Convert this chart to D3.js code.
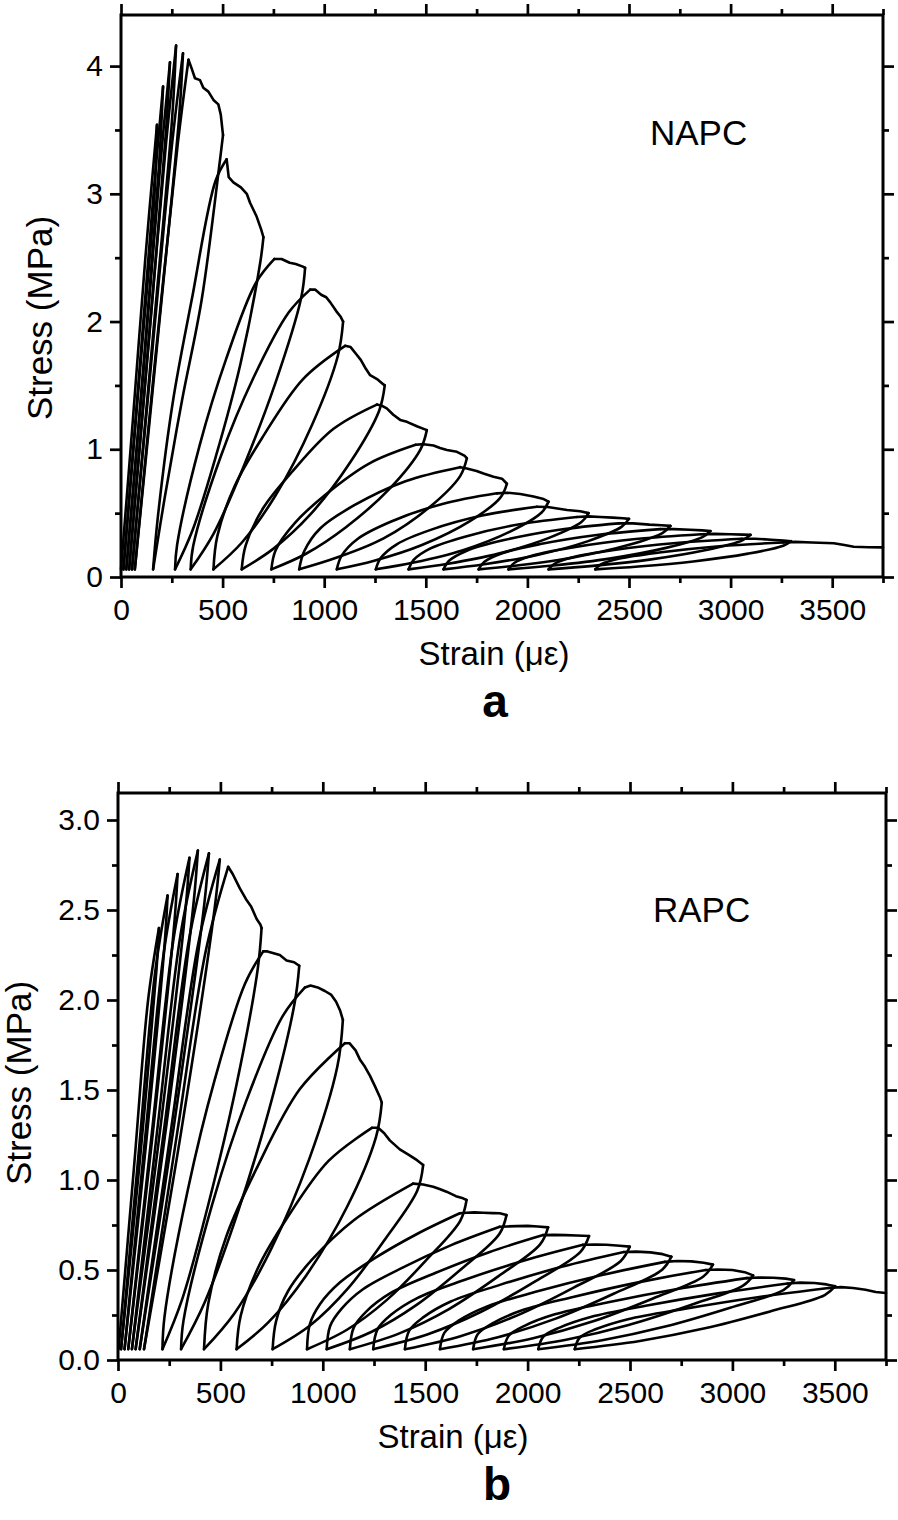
<!DOCTYPE html>
<html><head><meta charset="utf-8">
<script src="https://cdn.jsdelivr.net/npm/d3@7"></script>
<style>body{margin:0;background:#fff}svg{display:block}</style>
</head><body><svg id="c"></svg>
<script>
// ---------- tick values ----------
const strainMajor = [0,500,1000,1500,2000,2500,3000,3500];
const strainMinor = [250,750,1250,1750,2250,2750,3250,3750];
const stressMajorA = [0,1,2,3,4];
const stressMinorA = [0.5,1.5,2.5,3.5];
const stressMajorB = [0,0.5,1.0,1.5,2.0,2.5,3.0];
const stressMinorB = [0.25,0.75,1.25,1.75,2.25,2.75];

// ---------- panel a (NAPC): [strain, stress] ----------
const aLoading = [[0,0.06],[57,1.2],[120,2.5],[177,3.54]];
const aUnload = [
 [[177,3.54],[165,3.0],[98,1.7],[12,0.06]],
 [[207,3.84],[190,3.3],[118,1.8],[26,0.06]],
 [[241,4.03],[222,3.5],[140,1.9],[40,0.06]],
 [[271,4.16],[252,3.6],[158,1.9],[54,0.06]],
 [[305,4.10],[286,3.6],[183,1.9],[68,0.06]],
 [[502,3.46],[486,3.25],[397,2.17],[300,1.38],[215,0.62],[158,0.06]],
 [[701,2.66],[685,2.46],[588,1.67],[466,0.94],[353,0.37],[266,0.06]],
 [[906,2.42],[886,2.18],[760,1.52],[602,0.86],[456,0.34],[343,0.06]],
 [[1093,2.0],[1067,1.73],[940,1.19],[761,0.64],[595,0.27],[455,0.06]],
 [[1298,1.5],[1270,1.30],[1129,0.90],[932,0.49],[749,0.22],[594,0.06]],
 [[1505,1.15],[1474,1.0],[1321,0.69],[1107,0.39],[908,0.18],[740,0.06]],
 [[1702,0.93],[1669,0.79],[1521,0.55],[1290,0.30],[1059,0.15],[877,0.06]],
 [[1899,0.73],[1866,0.62],[1715,0.435],[1481,0.25],[1246,0.127],[1062,0.06]],
 [[2104,0.59],[2070,0.505],[1917,0.357],[1679,0.208],[1441,0.113],[1254,0.06]],
 [[2301,0.50],[2266,0.43],[2106,0.306],[1858,0.183],[1610,0.104],[1415,0.06]],
 [[2500,0.455],[2463,0.392],[2299,0.281],[2044,0.171],[1788,0.10],[1587,0.06]],
 [[2704,0.40],[2666,0.346],[2496,0.25],[2232,0.155],[1968,0.094],[1760,0.06]],
 [[2901,0.36],[2861,0.312],[2682,0.228],[2404,0.144],[2126,0.09],[1907,0.06]],
 [[3098,0.33],[3058,0.287],[2879,0.211],[2601,0.136],[2323,0.087],[2104,0.06]],
 [[3298,0.28],[3259,0.245],[3086,0.183],[2816,0.122],[2546,0.082],[2334,0.06]]
];
const aReload = [
 [[12,0.06],[90,1.6],[160,3.0],[207,3.84]],
 [[26,0.06],[110,1.6],[192,3.2],[241,4.03]],
 [[40,0.06],[128,1.7],[222,3.4],[271,4.16]],
 [[54,0.06],[150,1.7],[252,3.4],[305,4.10]],
 [[68,0.06],[168,1.7],[280,3.4],[332,4.05]],
 [[158,0.06],[180,0.45],[256,1.38],[348,2.17],[465,3.10],[520,3.27]],
 [[266,0.06],[276,0.25],[387,1.03],[518,1.71],[663,2.30],[755,2.49]],
 [[343,0.06],[355,0.24],[490,0.94],[649,1.55],[825,2.07],[931,2.25]],
 [[455,0.06],[474,0.32],[559,0.71],[695,1.09],[896,1.55],[1103,1.81]],
 [[594,0.06],[614,0.25],[700,0.54],[840,0.82],[1046,1.16],[1259,1.35]],
 [[740,0.06],[761,0.21],[854,0.42],[1003,0.64],[1223,0.89],[1450,1.035]],
 [[877,0.06],[901,0.20],[980,0.38],[1146,0.56],[1400,0.75],[1669,0.86]],
 [[1062,0.06],[1086,0.167],[1164,0.298],[1330,0.435],[1582,0.572],[1850,0.655]],
 [[1254,0.06],[1278,0.148],[1357,0.256],[1524,0.369],[1777,0.481],[2047,0.55]],
 [[1415,0.06],[1440,0.134],[1523,0.224],[1697,0.318],[1962,0.413],[2244,0.47]],
 [[1587,0.06],[1613,0.125],[1699,0.204],[1880,0.287],[2157,0.37],[2450,0.42]],
 [[1760,0.06],[1787,0.117],[1876,0.186],[2064,0.258],[2351,0.331],[2655,0.375]],
 [[1907,0.06],[1935,0.11],[2030,0.17],[2229,0.233],[2533,0.297],[2855,0.335]],
 [[2104,0.06],[2133,0.103],[2228,0.156],[2427,0.211],[2732,0.266],[3055,0.30]],
 [[2334,0.06],[2362,0.098],[2454,0.144],[2649,0.192],[2945,0.241],[3260,0.27]]
];
const aEnvelope = [
 [[332,4.05],[348,3.98],[364,3.905],[389,3.89],[405,3.83],[430,3.80],[455,3.735],[479,3.70],[491,3.62],[502,3.46]],
 [[520,3.27],[530,3.13],[553,3.09],[590,3.05],[619,3.0],[635,2.93],[668,2.82],[690,2.72],[701,2.66]],
 [[755,2.49],[790,2.49],[830,2.46],[860,2.45],[895,2.43],[906,2.42]],
 [[931,2.25],[955,2.25],[985,2.21],[1010,2.19],[1030,2.15],[1060,2.08],[1080,2.04],[1093,2.0]],
 [[1103,1.81],[1130,1.80],[1160,1.74],[1180,1.70],[1205,1.63],[1226,1.58],[1260,1.55],[1290,1.51],[1298,1.5]],
 [[1259,1.35],[1285,1.34],[1308,1.32],[1340,1.27],[1374,1.23],[1407,1.215],[1456,1.18],[1505,1.15]],
 [[1450,1.035],[1490,1.04],[1538,1.03],[1570,1.01],[1604,0.995],[1653,0.98],[1690,0.95],[1702,0.93]],
 [[1669,0.86],[1702,0.85],[1750,0.83],[1784,0.81],[1833,0.785],[1875,0.77],[1899,0.73]],
 [[1850,0.655],[1900,0.66],[1965,0.65],[2030,0.63],[2080,0.61],[2104,0.59]],
 [[2047,0.55],[2100,0.548],[2195,0.525],[2260,0.515],[2301,0.50]],
 [[2244,0.47],[2300,0.475],[2359,0.47],[2420,0.465],[2470,0.46],[2500,0.455]],
 [[2450,0.42],[2520,0.42],[2600,0.41],[2660,0.405],[2704,0.40]],
 [[2655,0.375],[2720,0.375],[2800,0.37],[2860,0.365],[2901,0.36]],
 [[2855,0.335],[2920,0.338],[3000,0.335],[3060,0.332],[3098,0.33]],
 [[3055,0.30],[3120,0.30],[3200,0.292],[3260,0.285],[3298,0.28]],
 [[3260,0.27],[3320,0.275],[3400,0.27],[3508,0.264],[3560,0.25],[3606,0.237],[3680,0.233],[3750,0.232]]
];

// ---------- panel b (RAPC): [strain, stress] ----------
const bLoading = [[3,0.06],[81,1.11],[147,2.0],[200,2.40]];
const bUnload = [
 [[200,2.40],[188,2.17],[107,1.11],[15,0.06]],
 [[242,2.58],[229,2.33],[136,1.19],[32,0.06]],
 [[291,2.70],[276,2.44],[169,1.25],[50,0.06]],
 [[349,2.79],[331,2.52],[207,1.29],[68,0.06]],
 [[390,2.83],[370,2.55],[237,1.31],[86,0.06]],
 [[444,2.815],[422,2.54],[273,1.30],[106,0.06]],
 [[497,2.78],[472,2.51],[310,1.28],[127,0.06]],
 [[701,2.40],[682,2.17],[575,1.51],[440,0.86],[314,0.34],[217,0.06]],
 [[885,2.19],[862,1.98],[735,1.38],[573,0.78],[423,0.32],[308,0.06]],
 [[1098,1.89],[1071,1.63],[935,1.12],[745,0.61],[569,0.26],[420,0.06]],
 [[1288,1.43],[1260,1.24],[1118,0.85],[919,0.47],[735,0.21],[579,0.06]],
 [[1490,1.083],[1461,0.94],[1306,0.674],[1123,0.398],[939,0.193],[755,0.06]],
 [[1702,0.889],[1671,0.773],[1507,0.557],[1313,0.334],[1118,0.168],[923,0.06]],
 [[1897,0.805],[1862,0.70],[1678,0.507],[1458,0.306],[1239,0.157],[1019,0.06]],
 [[2100,0.737],[2061,0.642],[1858,0.466],[1616,0.283],[1374,0.148],[1132,0.06]],
 [[2300,0.689],[2258,0.601],[2037,0.437],[1773,0.268],[1510,0.142],[1246,0.06]],
 [[2499,0.63],[2455,0.55],[2225,0.402],[1950,0.248],[1676,0.134],[1401,0.06]],
 [[2702,0.574],[2657,0.502],[2420,0.368],[2137,0.23],[1855,0.127],[1572,0.06]],
 [[2905,0.53],[2858,0.464],[2612,0.342],[2320,0.215],[2027,0.121],[1734,0.06]],
 [[3101,0.47],[3052,0.413],[2797,0.306],[2493,0.195],[2188,0.113],[1884,0.06]],
 [[3301,0.444],[3251,0.39],[2989,0.29],[2677,0.187],[2364,0.11],[2052,0.06]],
 [[3502,0.41],[3451,0.361],[3184,0.27],[2866,0.176],[2548,0.106],[2230,0.06]]
];
const bReload = [
 [[15,0.06],[104,1.19],[181,2.15],[242,2.58]],
 [[32,0.06],[134,1.25],[222,2.25],[291,2.70]],
 [[50,0.06],[168,1.29],[270,2.33],[349,2.79]],
 [[68,0.06],[195,1.31],[305,2.36],[390,2.83]],
 [[86,0.06],[227,1.30],[349,2.35],[444,2.815]],
 [[106,0.06],[259,1.28],[393,2.32],[497,2.78]],
 [[127,0.06],[290,1.27],[430,2.28],[538,2.74]],
 [[217,0.06],[227,0.24],[340,0.94],[473,1.56],[620,2.09],[709,2.27]],
 [[308,0.06],[320,0.22],[459,0.86],[623,1.43],[804,1.91],[913,2.07]],
 [[420,0.06],[441,0.315],[530,0.69],[675,1.06],[888,1.505],[1108,1.76]],
 [[579,0.06],[599,0.245],[685,0.515],[824,0.786],[1028,1.106],[1240,1.29]],
 [[755,0.06],[772,0.216],[830,0.382],[947,0.557],[1153,0.778],[1441,0.98]],
 [[923,0.06],[937,0.20],[986,0.31],[1083,0.43],[1246,0.56],[1460,0.70],[1669,0.815]],
 [[1019,0.06],[1036,0.189],[1091,0.284],[1196,0.393],[1382,0.509],[1627,0.638],[1864,0.74]],
 [[1132,0.06],[1151,0.18],[1212,0.269],[1330,0.371],[1538,0.478],[1812,0.599],[2076,0.694]],
 [[1246,0.06],[1267,0.17],[1333,0.251],[1461,0.344],[1687,0.443],[1984,0.553],[2271,0.64]],
 [[1401,0.06],[1422,0.163],[1492,0.238],[1625,0.325],[1861,0.416],[2171,0.519],[2470,0.60]],
 [[1572,0.06],[1594,0.152],[1665,0.22],[1803,0.298],[2044,0.38],[2363,0.472],[2670,0.545]],
 [[1734,0.06],[1757,0.144],[1831,0.205],[1973,0.276],[2222,0.35],[2552,0.434],[2870,0.50]],
 [[1884,0.06],[1908,0.135],[1985,0.19],[2133,0.254],[2394,0.321],[2738,0.396],[3070,0.455]],
 [[2052,0.06],[2076,0.129],[2156,0.18],[2308,0.239],[2576,0.301],[2929,0.37],[3270,0.425]],
 [[2230,0.06],[2255,0.125],[2335,0.172],[2490,0.227],[2763,0.284],[3123,0.349],[3470,0.40]]
];
const bEnvelope = [
 [[538,2.74],[560,2.70],[595,2.62],[625,2.56],[650,2.52],[677,2.45],[695,2.42],[701,2.40]],
 [[709,2.27],[730,2.27],[760,2.26],[790,2.25],[823,2.22],[860,2.21],[885,2.19]],
 [[913,2.07],[940,2.08],[975,2.07],[1010,2.05],[1040,2.03],[1065,1.99],[1085,1.94],[1098,1.89]],
 [[1108,1.76],[1130,1.76],[1160,1.72],[1181,1.67],[1205,1.63],[1230,1.58],[1255,1.52],[1279,1.46],[1288,1.43]],
 [[1240,1.29],[1270,1.29],[1300,1.26],[1327,1.22],[1376,1.17],[1420,1.14],[1460,1.11],[1490,1.083]],
 [[1441,0.98],[1490,0.975],[1539,0.963],[1570,0.95],[1604,0.935],[1650,0.91],[1685,0.898],[1702,0.889]],
 [[1669,0.815],[1702,0.818],[1740,0.82],[1783,0.818],[1830,0.816],[1864,0.815],[1897,0.805]],
 [[1864,0.74],[1900,0.742],[1946,0.744],[2000,0.745],[2050,0.742],[2100,0.737]],
 [[2076,0.694],[2130,0.695],[2185,0.694],[2240,0.692],[2300,0.689]],
 [[2271,0.64],[2330,0.642],[2385,0.64],[2450,0.635],[2499,0.63]],
 [[2470,0.60],[2530,0.602],[2600,0.598],[2660,0.588],[2702,0.574]],
 [[2670,0.545],[2730,0.55],[2800,0.548],[2860,0.54],[2905,0.53]],
 [[2870,0.50],[2930,0.503],[3000,0.5],[3060,0.488],[3101,0.47]],
 [[3070,0.455],[3130,0.458],[3200,0.457],[3260,0.452],[3301,0.444]],
 [[3270,0.425],[3330,0.43],[3400,0.428],[3460,0.42],[3502,0.41]],
 [[3470,0.40],[3530,0.405],[3589,0.40],[3650,0.39],[3700,0.378],[3750,0.372]]
];

// ---------- drawing ----------
const FONT = '"Liberation Sans", Arial, Helvetica, sans-serif';
const svg = d3.select('#c').attr('width', 898).attr('height', 1520);

function panel(cfg) {
  const g = svg.append('g');
  const x = d3.scaleLinear().domain([0, 3750]).range([cfg.left, cfg.right]);
  const y = d3.scaleLinear().domain([0, cfg.yMax]).range([cfg.bottom, cfg.top]);

  function axis(gen, tr, vals, size, pad, fmt) {
    const a = gen.tickValues(vals).tickSize(size).tickSizeOuter(0).tickPadding(pad)
      .tickFormat(fmt || '');
    const s = g.append('g').attr('transform', tr).call(a);
    s.select('.domain').remove();
    s.selectAll('line').attr('stroke', '#000').attr('stroke-width', 2.7);
    s.selectAll('text').attr('font-size', 30).attr('font-family', FONT).attr('fill', '#000');
  }
  const bt = `translate(0,${cfg.bottom})`, tp = `translate(0,${cfg.top})`;
  const lt = `translate(${cfg.left},0)`, rt = `translate(${cfg.right},0)`;
  axis(d3.axisBottom(x), bt, strainMajor, 11, 11, d3.format('d'));
  axis(d3.axisBottom(x), bt, strainMinor, 6, 11);
  axis(d3.axisTop(x), tp, strainMajor, 11, 8);
  axis(d3.axisTop(x), tp, strainMinor, 6, 8);
  axis(d3.axisLeft(y), lt, cfg.yMajor, 11, 7, cfg.yFmt);
  axis(d3.axisLeft(y), lt, cfg.yMinor, 6, 7);
  axis(d3.axisRight(y), rt, cfg.yMajor, 11, 8);
  axis(d3.axisRight(y), rt, cfg.yMinor, 6, 8);

  g.append('rect').attr('x', cfg.left).attr('y', cfg.top)
    .attr('width', cfg.right - cfg.left).attr('height', cfg.bottom - cfg.top)
    .attr('fill', 'none').attr('stroke', '#000').attr('stroke-width', 3);

  const smooth = d3.line().x(d => x(d[0])).y(d => y(d[1])).curve(d3.curveCatmullRom.alpha(0.5));
  const straight = d3.line().x(d => x(d[0])).y(d => y(d[1]));
  const curves = g.append('g').attr('fill', 'none').attr('stroke', '#000')
    .attr('stroke-width', 2.6).attr('stroke-linejoin', 'round').attr('stroke-linecap', 'round');
  curves.append('path').attr('d', smooth(cfg.loading));
  cfg.unload.forEach(s => curves.append('path').attr('d', smooth(s)));
  cfg.reload.forEach(s => curves.append('path').attr('d', smooth(s)));
  cfg.envelope.forEach(s => curves.append('path').attr('d', straight(s)));

  svg.append('text').attr('transform', `translate(${cfg.yTitleX},${cfg.yTitleY}) rotate(-90)`)
    .attr('text-anchor', 'middle').attr('font-family', FONT).attr('font-size', 35).text('Stress (MPa)');
  svg.append('text').attr('x', cfg.xTitleX).attr('y', cfg.xTitleY)
    .attr('text-anchor', 'middle').attr('font-family', FONT).attr('font-size', 33).text('Strain (\u03bc\u03b5)');
  svg.append('text').attr('x', cfg.nameX).attr('y', cfg.nameY)
    .attr('font-family', FONT).attr('font-size', 35).text(cfg.name);
  svg.append('text').attr('x', cfg.letterX).attr('y', cfg.letterY).attr('text-anchor', 'middle')
    .attr('font-family', FONT).attr('font-weight', 'bold').attr('font-size', 46).text(cfg.letter);
}

panel({left: 121, right: 883, top: 15, bottom: 577, yMax: 4.4,
  yMajor: stressMajorA, yMinor: stressMinorA, yFmt: d3.format('d'),
  loading: aLoading, unload: aUnload, reload: aReload, envelope: aEnvelope,
  yTitleX: 52, yTitleY: 318, xTitleX: 494, xTitleY: 665,
  name: 'NAPC', nameX: 650, nameY: 145, letter: 'a', letterX: 495, letterY: 717});

panel({left: 118, right: 886, top: 793, bottom: 1360, yMax: 3.15,
  yMajor: stressMajorB, yMinor: stressMinorB, yFmt: d3.format('.1f'),
  loading: bLoading, unload: bUnload, reload: bReload, envelope: bEnvelope,
  yTitleX: 31, yTitleY: 1083, xTitleX: 453, xTitleY: 1448,
  name: 'RAPC', nameX: 653, nameY: 922, letter: 'b', letterX: 497, letterY: 1500});
</script></body></html>
